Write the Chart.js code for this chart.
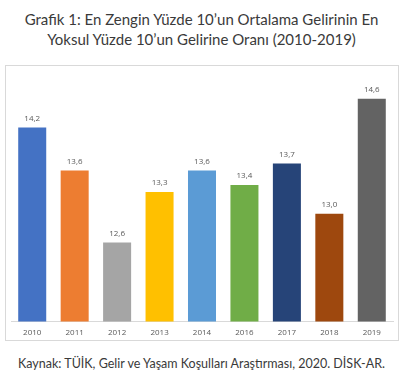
<!DOCTYPE html>
<html>
<head>
<meta charset="utf-8">
<script src="https://cdn.jsdelivr.net/npm/chart.js@4"></script>
<style>
  body { margin: 0; background: #fff; width: 420px; height: 382px; position: relative; overflow: hidden; font-family: Lato, sans-serif; }
  #title { position: absolute; left: 0; top: 9px; width: 403px; text-align: center; font-size: 15px; line-height: 20px; color: #3a3a3a; }
  #box { position: absolute; left: 5px; top: 65px; width: 392px; height: 274px; border: 1px solid #d9d9d9; }
  #oranChart { position: absolute; left: 6px; top: 66px; }
  #source { position: absolute; left: 0; top: 356px; width: 403px; text-align: center; font-size: 12.5px; color: #3a3a3a; }
</style>
</head>
<body>
<div id="title">Grafik 1: En Zengin Yüzde 10’un Ortalama Gelirinin En<br>Yoksul Yüzde 10’un Gelirine Oranı (2010-2019)</div>
<div id="box"></div>
<canvas id="oranChart" width="392" height="281"></canvas>
<div id="source">Kaynak: TÜİK, Gelir ve Yaşam Koşulları Araştırması, 2020. DİSK-AR.</div>
<script>
const years = ['2010', '2011', '2012', '2013', '2014', '2016', '2017', '2018', '2019'];
const ratios = [14.2, 13.6, 12.6, 13.3, 13.6, 13.4, 13.7, 13.0, 14.6];
const barColors = ['#4472C4', '#ED7D31', '#A5A5A5', '#FFC000', '#5B9BD5', '#70AD47', '#264478', '#9E480E', '#636363'];

// değer etiketleri (çubukların üstüne)
const valueLabels = {
    id: 'valueLabels',
    afterDatasetsDraw(chart) {
        const c = chart.ctx;
        const meta = chart.getDatasetMeta(0);
        c.save();
        c.font = '8px "Open Sans", sans-serif';
        c.fillStyle = '#595959';
        c.textAlign = 'center';
        c.textBaseline = 'bottom';
        meta.data.forEach((bar, i) => {
            c.fillText(ratios[i].toFixed(1).replace('.', ','), bar.x, bar.y - 5);
        });
        c.restore();
    }
};

const ctx = document.getElementById('oranChart').getContext('2d');
new Chart(ctx, {
    type: 'bar',
    data: {
        labels: years,
        datasets: [{
            data: ratios,
            backgroundColor: barColors,
            categoryPercentage: 1,
            barPercentage: 0.66
        }]
    },
    options: {
        responsive: false,
        animation: false,
        layout: { padding: { left: 5, right: 5, top: 4, bottom: 2 } },
        plugins: { legend: { display: false }, tooltip: { enabled: false } },
        scales: {
            x: {
                grid: { display: false, drawTicks: false },
                border: { color: '#d9d9d9' },
                ticks: { color: '#595959', font: { size: 8, family: '"Open Sans", sans-serif' }, padding: 7 }
            },
            y: { display: false, min: 11.5, max: 15 }
        }
    },
    plugins: [valueLabels]
});
</script>
</body>
</html>
